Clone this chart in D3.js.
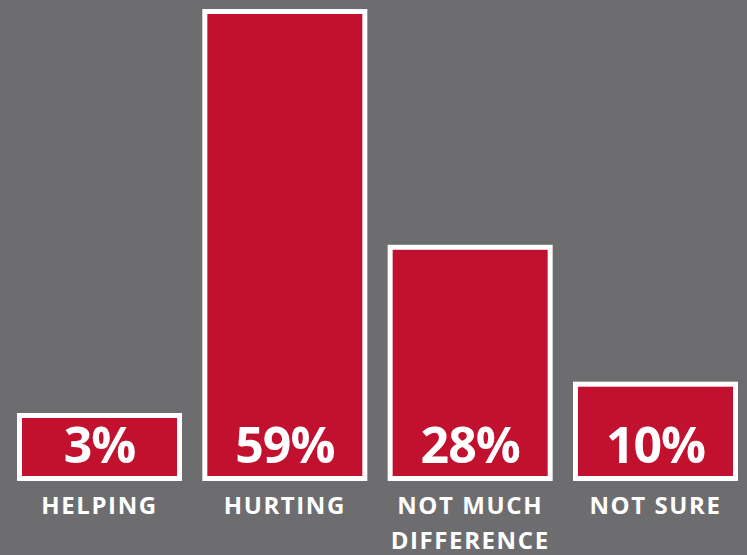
<!DOCTYPE html>
<html>
<head>
<meta charset="utf-8">
<script src="https://cdn.jsdelivr.net/npm/d3@7"></script>
<style>
  html, body { margin: 0; padding: 0; background: #6d6d6f; }
  svg { display: block; }
</style>
</head>
<body>
<svg id="canvas"></svg>
<script>
// chart data
let categories = ['HELPING', 'HURTING', 'NOT MUCH DIFFERENCE', 'NOT SURE']
let labelLines = [['HELPING'], ['HURTING'], ['NOT MUCH', 'DIFFERENCE'], ['NOT SURE']]
let values = [3, 59, 28, 10]

let width = 747
let height = 555
let baseline = 478.5
let strokeW = 5

let canvas = d3.select('#canvas')
    .attr('width', width)
    .attr('height', height)

// x scale - one band per answer
let xScale = d3.scaleBand()
    .domain(categories)
    .range([19.5, 735.5])
    .paddingInner(0.1366)
    .paddingOuter(0)

// y scale - bar height, small bars kept tall enough for their label
let hScale = d3.scaleLinear()
    .domain([-2.4, 59])
    .range([0, 467])
let minH = 63

let barH = (v) => Math.max(hScale(v), minH)

canvas.selectAll('rect.bar')
    .data(values)
    .enter()
    .append('rect')
    .attr('class', 'bar')
    .attr('x', (d, i) => xScale(categories[i]))
    .attr('y', (d) => baseline - barH(d))
    .attr('width', xScale.bandwidth())
    .attr('height', (d) => barH(d))
    .attr('fill', '#c1112f')
    .attr('stroke', '#ffffff')
    .attr('stroke-width', strokeW)

// value labels inside the bars
canvas.selectAll('text.value')
    .data(values)
    .enter()
    .append('text')
    .attr('class', 'value')
    .attr('x', (d, i) => xScale(categories[i]) + xScale.bandwidth() / 2)
    .attr('y', 463)
    .attr('text-anchor', 'middle')
    .attr('fill', '#ffffff')
    .style('font-family', '"Open Sans", sans-serif')
    .style('font-weight', 700)
    .style('font-size', '50px')
    .style('letter-spacing', '-1px')
    .text((d) => d + '%')

// category labels under the bars
let cat = canvas.selectAll('text.cat')
    .data(labelLines)
    .enter()
    .append('text')
    .attr('class', 'cat')
    .attr('text-anchor', 'middle')
    .attr('fill', '#ffffff')
    .style('font-family', '"Open Sans", sans-serif')
    .style('font-weight', 700)
    .style('font-size', '24px')
    .style('letter-spacing', '1.6px')

cat.selectAll('tspan')
    .data((d, i) => d.map((line) => ({ line: line, i: i })))
    .enter()
    .append('tspan')
    .attr('x', (d) => xScale(categories[d.i]) + xScale.bandwidth() / 2)
    .attr('y', (d, j) => 514 + j * 35)
    .text((d) => d.line)
</script>
</body>
</html>
